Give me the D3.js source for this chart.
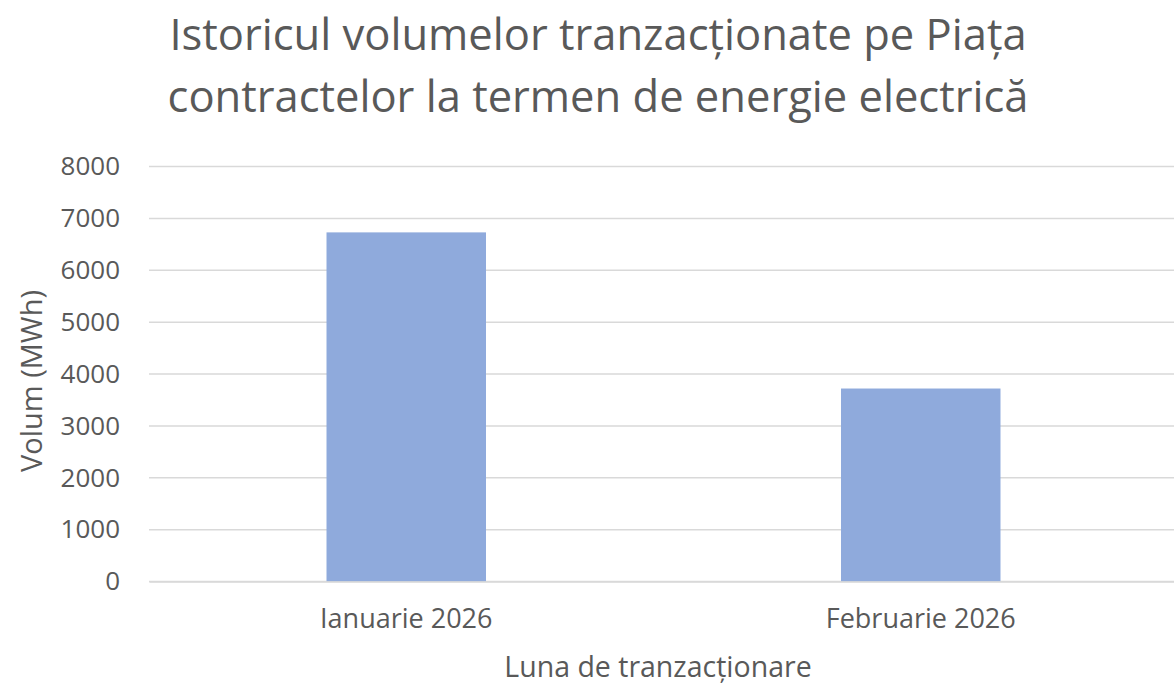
<!DOCTYPE html>
<html lang="ro">
<head>
  <meta charset="UTF-8">
  <title>Istoricul volumelor tranzacționate</title>
  <script src="https://d3js.org/d3.v7.min.js"></script>
  <style>
    body { margin: 0; background: #fff; }
    svg text { font-family: "Open Sans", "Noto Sans", sans-serif; fill: #595959; }
  </style>
</head>
<body>
  <div id="chart"></div>
  <script>
    // data
    const months = ["Ianuarie 2026", "Februarie 2026"];
    const volumes = [6730, 3720];
    const yTicks = [0, 1000, 2000, 3000, 4000, 5000, 6000, 7000, 8000];
    const titleLines = ["Istoricul volumelor tranzacționate pe Piața", "contractelor la termen de energie electrică"];

    const W = 1174, H = 687;
    const plotLeft = 149, plotRight = 1178, plotTop = 166.5, plotBottom = 581.5;

    const svg = d3.select("#chart").append("svg")
      .attr("width", W)
      .attr("height", H);

    const x = d3.scaleBand()
      .domain(months)
      .range([plotLeft, plotRight])
      .paddingInner(0.69)
      .paddingOuter(0.345);

    const y = d3.scaleLinear()
      .domain([0, 8000])
      .range([plotBottom, plotTop]);

    // gridlines
    svg.append("g")
      .selectAll("line")
      .data(yTicks)
      .enter().append("line")
      .attr("x1", plotLeft)
      .attr("x2", plotRight)
      .attr("y1", d => y(d))
      .attr("y2", d => y(d))
      .attr("stroke", "#d9d9d9")
      .attr("stroke-width", 1.5);

    // y tick labels
    const yAxis = svg.append("g")
      .attr("transform", `translate(${plotLeft},0)`)
      .call(d3.axisLeft(y).tickValues(yTicks).tickFormat(d3.format("d")).tickSize(0).tickPadding(29));
    yAxis.select(".domain").remove();
    yAxis.selectAll("text")
      .style("font-size", "26px")
      .attr("fill", "#595959");

    // bars
    svg.selectAll(".bar")
      .data(volumes)
      .enter().append("rect")
      .attr("class", "bar")
      .attr("x", (d, i) => x(months[i]))
      .attr("y", d => y(d))
      .attr("width", x.bandwidth())
      .attr("height", d => y(0) - y(d))
      .attr("fill", "#8faadc");

    // x axis line + labels
    const xAxis = svg.append("g")
      .attr("transform", `translate(0,${plotBottom})`)
      .call(d3.axisBottom(x).tickSize(0).tickPadding(27));
    xAxis.select(".domain")
      .attr("stroke", "#d9d9d9")
      .attr("stroke-width", 1.5);
    xAxis.selectAll("text")
      .style("font-size", "27px")
      .attr("fill", "#595959");

    // title
    svg.append("text")
      .attr("x", 598)
      .attr("text-anchor", "middle")
      .style("font-size", "43.5px")
      .selectAll("tspan")
      .data(titleLines)
      .enter().append("tspan")
      .attr("x", 598)
      .attr("y", (d, i) => 50 + i * 62)
      .text(d => d);

    // axis titles
    svg.append("text")
      .attr("x", 658)
      .attr("y", 677)
      .attr("text-anchor", "middle")
      .style("font-size", "28.5px")
      .text("Luna de tranzacționare");

    svg.append("text")
      .attr("transform", "rotate(-90)")
      .attr("x", -381)
      .attr("y", 42)
      .attr("text-anchor", "middle")
      .style("font-size", "29px")
      .text("Volum (MWh)");
  </script>
</body>
</html>
